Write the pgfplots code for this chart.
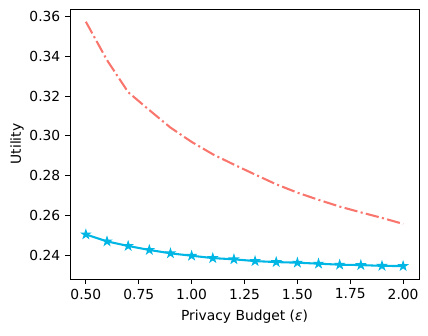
\documentclass[border=0pt]{standalone}
\usepackage{fontspec}
\setmainfont{DejaVu Sans}
\usepackage{pgfplots}
\pgfplotsset{compat=1.18}

\definecolor{redline}{RGB}{248,118,109}
\definecolor{blueline}{RGB}{0,182,228}

% filled five-pointed star, like matplotlib's '*'
\pgfdeclareplotmark{fstar}{%
  \pgfpathmoveto{\pgfqpointpolar{90}{\pgfplotmarksize}}%
  \pgfpathlineto{\pgfqpointpolar{126}{0.382\pgfplotmarksize}}%
  \pgfpathlineto{\pgfqpointpolar{162}{\pgfplotmarksize}}%
  \pgfpathlineto{\pgfqpointpolar{198}{0.382\pgfplotmarksize}}%
  \pgfpathlineto{\pgfqpointpolar{234}{\pgfplotmarksize}}%
  \pgfpathlineto{\pgfqpointpolar{270}{0.382\pgfplotmarksize}}%
  \pgfpathlineto{\pgfqpointpolar{306}{\pgfplotmarksize}}%
  \pgfpathlineto{\pgfqpointpolar{342}{0.382\pgfplotmarksize}}%
  \pgfpathlineto{\pgfqpointpolar{18}{\pgfplotmarksize}}%
  \pgfpathlineto{\pgfqpointpolar{54}{0.382\pgfplotmarksize}}%
  \pgfpathclose
  \pgfusepathqfillstroke}

\begin{document}
\begin{tikzpicture}
\useasboundingbox (-0.70in,-0.57in) rectangle (3.58in,2.79in);
\begin{axis}[
  scale only axis,
  width=3.49in, height=2.70in,
  at={(0,0)}, anchor=south west,
  xmin=0.425, xmax=2.075,
  ymin=0.2281, ymax=0.3638,
  xtick={0.5,0.75,1,1.25,1.5,1.75,2},
  ytick={0.24,0.26,0.28,0.30,0.32,0.34,0.36},
  tick align=outside,
  major tick length=3.5pt,
  xtick pos=bottom, ytick pos=left,
  axis line style={line width=0.7pt},
  every tick/.style={black, line width=0.7pt},
  tick label style={font=\fontsize{10}{12}\selectfont},
  /pgf/number format/assume math mode=true,
  xticklabel={\pgfmathprintnumber[fixed,fixed zerofill,precision=2]{\tick}},
  yticklabel={\pgfmathprintnumber[fixed,fixed zerofill,precision=2]{\tick}},
  scaled ticks=false,
  xlabel={Privacy Budget (\textit{ε})},
  ylabel={Utility},
  label style={font=\fontsize{10}{12}\selectfont},
  x label style={at={(axis description cs:0.5,-0.1407)}, anchor=center},
  y label style={at={(axis description cs:-0.1519,0.5)}, anchor=center, rotate=0},
]
\addplot[redline, line width=1.5pt, dash pattern=on 9.6pt off 2.4pt on 1.5pt off 2.4pt] coordinates {
  (0.5,0.3574) (0.6,0.3381) (0.7,0.3220) (0.8,0.3130) (0.9,0.3042)
  (1.0,0.2970) (1.1,0.2908) (1.2,0.2856) (1.3,0.2806) (1.4,0.2757)
  (1.5,0.2715) (1.6,0.2679) (1.7,0.2645) (1.8,0.2616) (1.9,0.2588)
  (2.0,0.2558)
};
\addplot[blueline, line width=1.5pt, mark=fstar, mark size=2.8pt,
  mark options={solid, fill=blueline, line width=1pt}] coordinates {
  (0.5,0.2505) (0.6,0.2470) (0.7,0.2447) (0.8,0.2427) (0.9,0.2410)
  (1.0,0.2398) (1.1,0.2386) (1.2,0.2380) (1.3,0.2371) (1.4,0.2366)
  (1.5,0.2363) (1.6,0.2358) (1.7,0.2353) (1.8,0.2351) (1.9,0.2347)
  (2.0,0.2346)
};
\end{axis}
\end{tikzpicture}
\end{document}
